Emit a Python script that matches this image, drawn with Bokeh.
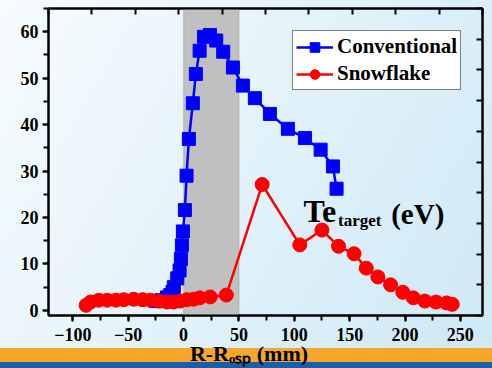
from bokeh.plotting import figure
from bokeh.models import (Range1d, LinearAxis, SingleIntervalTicker, BoxAnnotation,
                          Legend, LegendItem, Label)
from bokeh.embed import file_html
from bokeh.resources import INLINE

conv_x = [-25, -20, -15, -12, -10, -8.8, -5.7, -3.6, -2.4, -1.5, -0.6, 1.2, 2.7, 4.8, 8.4,
          11.1, 14.5, 18.4, 23.8, 29.5, 35.8, 44.6, 53.6, 64.4, 78, 94.2, 109.6, 123.8, 134.9, 138.2]
conv_y = [2.0, 2.2, 2.8, 3.3, 4.0, 5.0, 6.9, 8.6, 11.1, 14.0, 17.0, 21.6, 29.0, 36.9, 44.6,
          50.9, 55.9, 58.9, 59.3, 58.1, 55.7, 52.3, 48.4, 45.7, 42.3, 39.1, 37.1, 34.6, 31.0, 26.2]

snow_x = [-88, -84, -76.5, -69, -61, -54, -45, -37, -30, -22, -15, -9, -3, 3, 9, 14.5, 24, 38.6,
          71, 105, 125, 140, 154, 165, 175.5, 187, 198, 207.5, 218, 228, 237.6, 242.7]
snow_y = [1.1, 1.8, 2.2, 2.2, 2.2, 2.3, 2.4, 2.3, 2.2, 2.0, 1.8, 1.8, 2.0, 2.3, 2.4, 2.7, 2.9, 3.3,
          27.1, 14.1, 17.3, 13.8, 12.2, 9.1, 7.2, 5.5, 3.9, 2.7, 2.0, 1.8, 1.6, 1.3]

band = [0, 50]
series_names = ["Conventional", "Snowflake"]
x_label = "R-R\u2092\u209b\u209a (mm)"

FONT = '"Liberation Serif"'

p = figure(width=492, height=368, output_backend="svg", toolbar_location=None,
           x_range=Range1d(-122, 270), y_range=Range1d(-1.1, 65),
           min_border_left=48, min_border_right=10, min_border_top=8, min_border_bottom=53,
           background_fill_alpha=0, border_fill_alpha=0, outline_line_color="black",
           outline_line_width=2)
p.styles = {"background": "linear-gradient(to bottom, rgba(0,0,0,0) 0px, rgba(0,0,0,0) 348px, "
                          "#f5a72c 348px, #f5a72c 362px, #1d5ca6 362px, #1d5ca6 368px), "
                          "linear-gradient(120deg, #f7fcfe 0%, #e4f3fa 45%, #cde8f5 100%)"}
p.grid.visible = False

for ax in (p.xaxis[0], p.yaxis[0]):
    ax.axis_line_width = 2
    ax.major_tick_line_width = 2
    ax.minor_tick_line_width = 2
    ax.major_tick_in = 0
    ax.major_tick_out = 6
    ax.minor_tick_in = 0
    ax.minor_tick_out = 5
    ax.major_label_text_font = FONT
    ax.major_label_text_font_style = "bold"
    ax.major_label_text_font_size = "18px"
    ax.major_label_text_color = "black"
p.xaxis[0].ticker = SingleIntervalTicker(interval=50, num_minor_ticks=2)
p.yaxis[0].ticker = SingleIntervalTicker(interval=10, num_minor_ticks=2)
p.xaxis[0].major_label_standoff = 6
p.yaxis[0].major_label_standoff = 4

xa = p.xaxis[0]
xa.axis_label = x_label + "\u00a0" * 6
xa.axis_label_text_font = FONT
xa.axis_label_text_font_style = "bold"
xa.axis_label_text_font_size = "22px"
xa.axis_label_text_color = "black"
xa.axis_label_standoff = -3

p.extra_x_ranges = {"top": Range1d(-50, 50)}
p.extra_y_ranges = {"right": Range1d(0, 10)}
top = LinearAxis(x_range_name="top", ticker=SingleIntervalTicker(interval=10, num_minor_ticks=0),
                 major_label_text_font_size="0px", major_label_standoff=0,
                 major_tick_in=6, major_tick_out=0, minor_tick_in=0, minor_tick_out=0,
                 axis_line_width=2, major_tick_line_width=2)
right = LinearAxis(y_range_name="right", ticker=SingleIntervalTicker(interval=1, num_minor_ticks=0),
                   major_label_text_font_size="0px", major_label_standoff=0,
                   major_tick_in=6, major_tick_out=0, minor_tick_in=0, minor_tick_out=0,
                   axis_line_width=2, major_tick_line_width=2)
p.add_layout(top, "above")
p.add_layout(right, "right")

p.add_layout(BoxAnnotation(left=band[0], right=band[1], fill_color="#c0c0c0", fill_alpha=1,
                           line_color="#8a8a8a", line_width=1.5, level="underlay"))

l1 = p.line(conv_x, conv_y, line_color="#0000ff", line_width=2.5)
s1 = p.scatter(conv_x, conv_y, marker="square", size=13, fill_color="#0000ff", line_color="#0000ff")
l2 = p.line(snow_x, snow_y, line_color="#ff0000", line_width=2.5)
s2 = p.scatter(snow_x, snow_y, marker="circle", size=14, fill_color="#ff0000", line_color="#ff0000")

legend = Legend(items=[LegendItem(label=series_names[0], renderers=[l1, s1]),
                       LegendItem(label=series_names[1], renderers=[l2, s2])],
                location=(244, 225), label_text_font=FONT, label_text_font_style="bold",
                label_text_font_size="21px", label_text_color="black",
                glyph_width=37, glyph_height=24, label_height=24, spacing=2, padding=3,
                margin=0, label_standoff=4, border_line_color="black", border_line_width=1.5,
                background_fill_color="white", background_fill_alpha=1)
p.add_layout(legend, "center")

def lab(x, y, t, size, style="bold"):
    p.add_layout(Label(x=x, y=y, text=t, text_font=FONT, text_font_style=style,
                       text_font_size=size, text_color="black", text_baseline="alphabetic"))

lab(108.4, 21.5, "Te", "32px")
lab(139.5, 19.3, "target", "17px")
lab(187.5, 20.7, "(eV)", "29px")

open("out.html", "w").write(file_html(p, INLINE))
